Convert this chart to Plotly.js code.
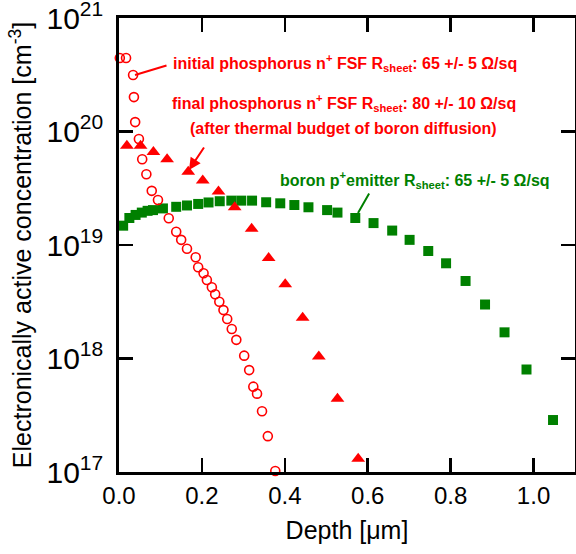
<!DOCTYPE html>
<html>
<head>
<meta charset="utf-8">
<script src="https://cdn.plot.ly/plotly-3.0.1.min.js"></script>
<style>html,body{margin:0;padding:0;background:#fff;}#chart{width:576px;height:554px;}</style>
</head>
<body>
<div id="chart"></div>
<script>
// initial phosphorus n+ FSF (open circles)
var initDepth = [0.002, 0.017, 0.034, 0.036, 0.039, 0.048, 0.056, 0.066, 0.079, 0.094, 0.120, 0.138, 0.150, 0.164, 0.185, 0.191, 0.204, 0.212, 0.224, 0.232, 0.242, 0.252, 0.261, 0.272, 0.283, 0.302, 0.314, 0.324, 0.333, 0.345, 0.359, 0.377];
var initConc = [4.44e20, 4.44e20, 3.15e20, 2.01e20, 1.21e20, 8.6e19, 5.7e19, 4.2e19, 3.0e19, 2.49e19, 1.72e19, 1.31e19, 1.11e19, 9.27e18, 7.8e18, 6.37e18, 5.63e18, 4.92e18, 4.24e18, 3.68e18, 3.16e18, 2.67e18, 2.23e18, 1.82e18, 1.46e18, 1.06e18, 7.9e17, 5.65e17, 4.9e17, 3.43e17, 2.07e17, 1.02e17];

// final phosphorus n+ FSF (filled triangles)
var finalDepth = [0.019, 0.052, 0.083, 0.116, 0.167, 0.202, 0.240, 0.279, 0.320, 0.361, 0.401, 0.443, 0.482, 0.527, 0.577];
var finalConc = [7.5e19, 7.5e19, 6.6e19, 5.7e19, 4.43e19, 3.7e19, 2.96e19, 2.15e19, 1.39e19, 7.67e18, 4.51e18, 2.28e18, 1.04e18, 4.43e17, 1.31e17];

// boron p+ emitter (filled squares)
var boronDepth = [0.010, 0.025, 0.040, 0.055, 0.069, 0.082, 0.106, 0.138, 0.164, 0.191, 0.216, 0.243, 0.271, 0.295, 0.321, 0.355, 0.389, 0.423, 0.457, 0.502, 0.527, 0.570, 0.614, 0.659, 0.701, 0.746, 0.789, 0.836, 0.883, 0.930, 0.983, 1.047];
var boronConc = [1.48e19, 1.73e19, 1.84e19, 1.93e19, 2.0e19, 2.03e19, 2.10e19, 2.17e19, 2.23e19, 2.30e19, 2.37e19, 2.43e19, 2.46e19, 2.46e19, 2.46e19, 2.38e19, 2.33e19, 2.25e19, 2.15e19, 2.03e19, 1.93e19, 1.73e19, 1.56e19, 1.34e19, 1.11e19, 8.85e18, 6.9e18, 4.82e18, 2.99e18, 1.70e18, 8.0e17, 2.87e17];

var FONT = 'Liberation Sans, Arial, sans-serif';
var RED = '#ff0000';
var GREEN = 'rgb(0,128,0)';

var traces = [
  {x: boronDepth, y: boronConc, type: 'scatter', mode: 'markers', cliponaxis: false,
   marker: {symbol: 'square', size: 10, color: GREEN, line: {width: 0}}, name: 'boron'},
  {x: finalDepth, y: finalConc, type: 'scatter', mode: 'markers', cliponaxis: false,
   marker: {symbol: 'triangle-up', size: 12, color: RED, line: {width: 0}}, name: 'final'},
  {x: initDepth, y: initConc, type: 'scatter', mode: 'markers', cliponaxis: false,
   marker: {symbol: 'circle-open', size: 9, color: RED, line: {width: 1.6, color: RED}}, name: 'initial'}
];

function txt(s, x, y, color) {
  return {text: '<b>' + s + '</b>', xref: 'paper', yref: 'paper', x: x, y: y,
    xanchor: 'center', yanchor: 'middle', showarrow: false,
    font: {family: FONT, size: 16, color: color}};
}
function arr(x, y, ax, ay, color, head) {
  return {text: '', xref: 'paper', yref: 'paper', x: x, y: y, ax: ax, ay: ay,
    showarrow: true, arrowhead: head, arrowsize: 1.2, arrowwidth: 2, arrowcolor: color, standoff: 0, startstandoff: 0};
}

var layout = {
  width: 576, height: 554,
  margin: {l: 119, r: 1, t: 18, b: 82, pad: 0},
  paper_bgcolor: '#fff', plot_bgcolor: '#fff',
  showlegend: false,
  font: {family: FONT, color: '#000'},
  xaxis: {
    range: [0, 1.1], dtick: 0.2, tick0: 0, tickformat: '.1f',
    ticks: 'inside', ticklen: 14, tickwidth: 2.5, tickcolor: '#000',
    showline: true, linewidth: 3, linecolor: '#000', mirror: 'ticks',
    showgrid: false, zeroline: false,
    tickfont: {family: FONT, size: 24, color: '#000'},
    title: {text: 'Depth [μm]', font: {family: FONT, size: 25, color: '#000'}, standoff: 14}
  },
  yaxis: {
    type: 'log', range: [17, 21], dtick: 1, exponentformat: 'power',
    ticks: 'inside', ticklen: 14, tickwidth: 2.5, tickcolor: '#000',
    showline: true, linewidth: 3, linecolor: '#000', mirror: 'ticks',
    showgrid: false, zeroline: false, ticklabeloverflow: 'allow',
    tickfont: {family: FONT, size: 24, color: '#000'},
    ticklabelstandoff: 8,
    title: {text: 'Electronically active concentration [cm<sup>-3</sup>]', font: {family: FONT, size: 25, color: '#000'}, standoff: 8}
  },
  annotations: [
    txt('initial phosphorus n<sup>+</sup> FSF R<sub>sheet</sub>: 65 +/- 5 Ω/sq', 0.4967, 0.9009, RED),
    txt('final phosphorus n<sup>+</sup> FSF R<sub>sheet</sub>: 80 +/- 10 Ω/sq', 0.4945, 0.8128, RED),
    txt('(after thermal budget of boron diffusion)', 0.4934, 0.7577, RED),
    txt('boron p<sup>+</sup>emitter R<sub>sheet</sub>: 65 +/- 5 Ω/sq', 0.649, 0.6432, GREEN),
    arr(0.0351, 0.8744, 33, -10, RED, 0),
    arr(0.1535, 0.6652, 16, -24, RED, 2),
    arr(0.5241, 0.5705, 12, -21, GREEN, 0)
  ]
};

Plotly.newPlot('chart', traces, layout, {staticPlot: true, displayModeBar: false});
</script>
</body>
</html>
